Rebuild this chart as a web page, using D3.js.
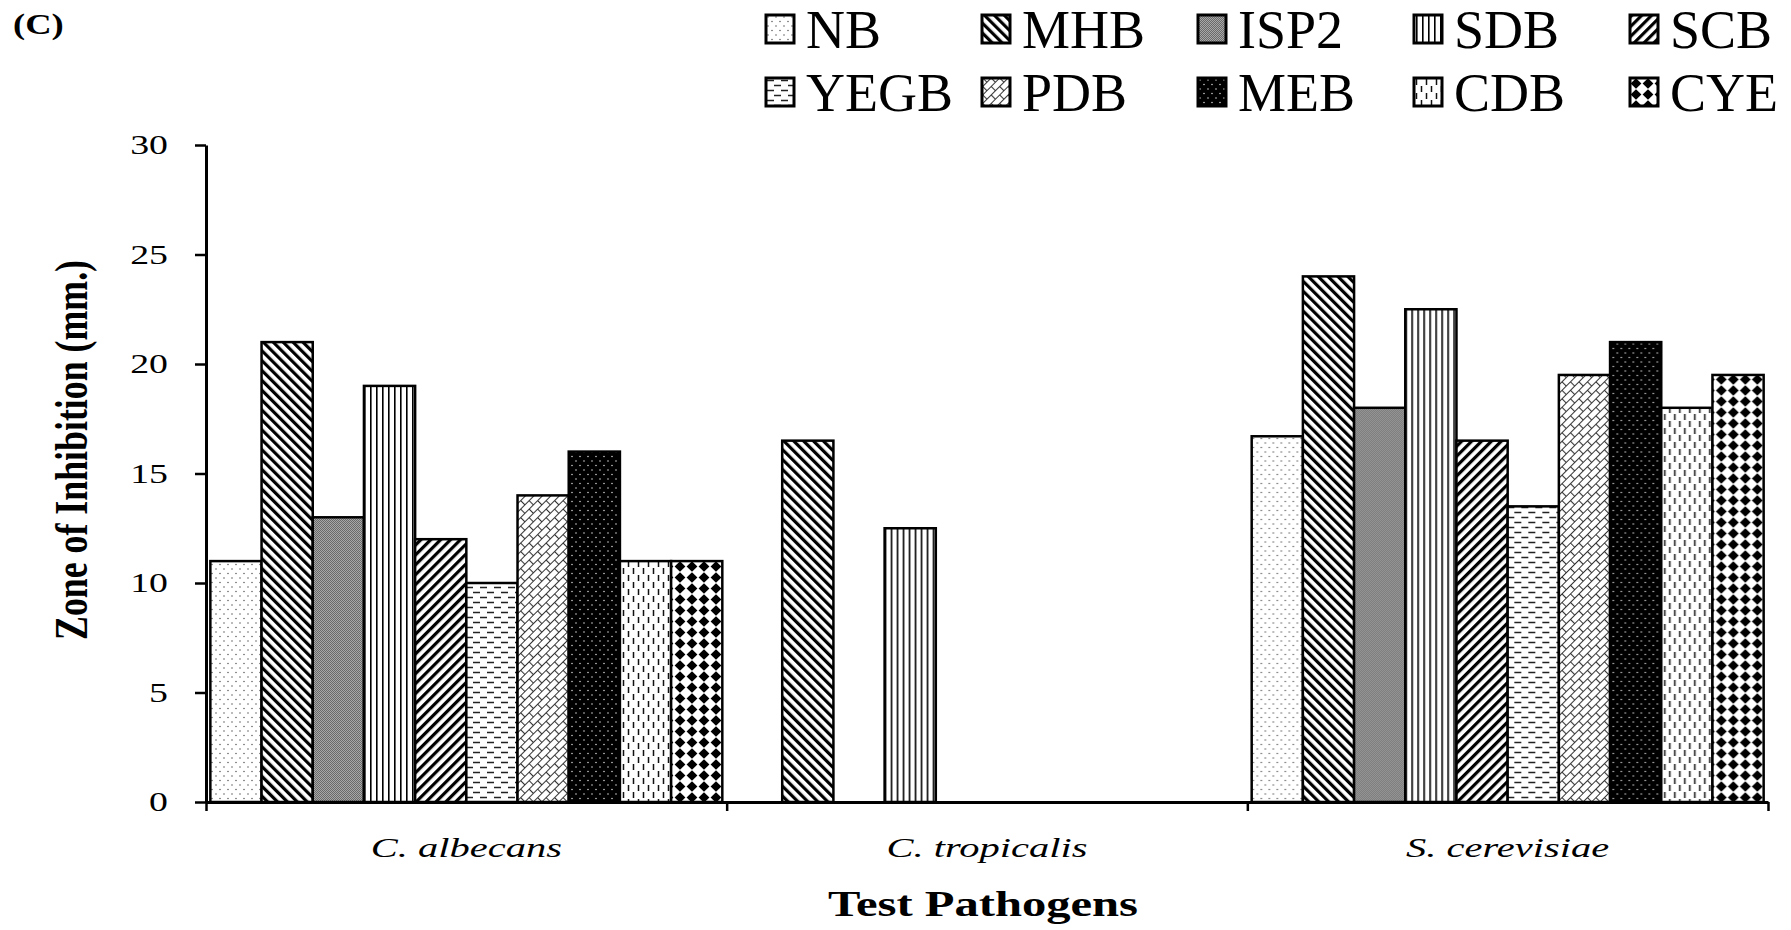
<!DOCTYPE html>
<html><head><meta charset="utf-8">
<script src="https://cdn.jsdelivr.net/npm/d3@7"></script>
<style>
html,body{margin:0;padding:0;background:#fff;}
text{font-family:"Liberation Serif","Times New Roman",serif;fill:#000;}
</style></head>
<body><svg id="chart" width="1791" height="930"></svg>
<script>
const categories = ["C. albecans", "C. tropicalis", "S. cerevisiae"];
const seriesNames = ["NB","MHB","ISP2","SDB","SCB","YEGB","PDB","MEB","CDB","CYE"];
const albecansValues   = [11, 21, 13, 19, 12, 10, 14, 16, 11, 11];
const tropicalisValues = [0, 16.5, 0, 12.5, 0, 0, 0, 0, 0, 0];
const cerevisiaeValues = [16.7, 24, 18, 22.5, 16.5, 13.5, 19.5, 21, 18, 19.5];
const yTickValues = [0, 5, 10, 15, 20, 25, 30];
const valuesByCategory = [albecansValues, tropicalisValues, cerevisiaeValues];

const svg = d3.select("#chart");
const L = 206, R = 1768, B = 802, T = 145;

// patterns
const defs = svg.append("defs");
function pat(id, w, h, transform){
  const p = defs.append("pattern").attr("id", id).attr("patternUnits","userSpaceOnUse")
    .attr("width", w).attr("height", h);
  if (transform) p.attr("patternTransform", transform);
  return p;
}
let p;
// NB
p = pat("p0", 8, 9); p.append("rect").attr("width",8).attr("height",9).attr("fill","#fff");
p.append("circle").attr("cx",2).attr("cy",2).attr("r",0.75).attr("fill","#555");
p.append("circle").attr("cx",6).attr("cy",6.5).attr("r",0.75).attr("fill","#555");
// MHB
p = pat("p1", 7, 7, "rotate(-45)"); p.append("rect").attr("width",7).attr("height",7).attr("fill","#fff");
p.append("rect").attr("x",0).attr("width",3.2).attr("height",7).attr("fill","#000");
// ISP2
p = pat("p2", 2, 2); p.append("rect").attr("width",2).attr("height",2).attr("fill","#a8a8a8");
p.append("rect").attr("width",1).attr("height",1).attr("fill","#6a6a6a");
p.append("rect").attr("x",1).attr("y",1).attr("width",1).attr("height",1).attr("fill","#6a6a6a");
// SDB
p = pat("p3", 6, 6); p.append("rect").attr("width",6).attr("height",6).attr("fill","#fff");
p.append("rect").attr("x",2).attr("width",1.6).attr("height",6).attr("fill","#000");
// SCB
p = pat("p4", 7, 7, "rotate(45)"); p.append("rect").attr("width",7).attr("height",7).attr("fill","#fff");
p.append("rect").attr("x",0).attr("width",3.2).attr("height",7).attr("fill","#000");
// YEGB
p = pat("p5", 14, 10); p.append("rect").attr("width",14).attr("height",10).attr("fill","#fff");
p.append("path").attr("d","M1,2.5H8M8,7.5H15M-6,7.5H1").attr("stroke","#222").attr("stroke-width",1.3);
// PDB
p = pat("p6", 12, 12, "rotate(-45)"); p.append("rect").attr("width",12).attr("height",12).attr("fill","#fff");
p.append("path").attr("d","M0,0.5H12M0,6.5H12M0.5,0.5V6.5M6.5,6.5V12.5").attr("stroke","#333").attr("stroke-width",1.1).attr("fill","none");
// MEB
p = pat("p7", 8, 9); p.append("rect").attr("width",8).attr("height",9).attr("fill","#000");
p.append("circle").attr("cx",2).attr("cy",2).attr("r",0.8).attr("fill","#ccc");
p.append("circle").attr("cx",6).attr("cy",6.5).attr("r",0.8).attr("fill","#ccc");
// CDB
p = pat("p8", 10, 14); p.append("rect").attr("width",10).attr("height",14).attr("fill","#fff");
p.append("path").attr("d","M2.5,1V7M7.5,8V14").attr("stroke","#111").attr("stroke-width",1.5);
// CYE
p = pat("p9", 12, 11); p.append("rect").attr("width",12).attr("height",11).attr("fill","#fff");
p.append("polygon").attr("points","6,0.3 11.4,5.5 6,10.7 0.6,5.5").attr("fill","#000");

// scales
const x0 = d3.scaleBand().domain(categories).range([L, R]).paddingInner(0).paddingOuter(0);
const x1 = d3.scaleBand().domain(seriesNames).range([0, x0.bandwidth()]).paddingInner(0).paddingOuter(0.085);
const y = d3.scaleLinear().domain([0, 30]).range([B, T]);
const xEdge = d3.scaleLinear().domain([0, categories.length]).range([L, R]);

// bars
const groups = svg.append("g").selectAll("g").data(categories).join("g")
  .attr("transform", d => `translate(${x0(d)},0)`);
groups.selectAll("rect").data((c, ci) => seriesNames.map((s, si) => ({s, si, v: valuesByCategory[ci][si]})))
  .join("rect")
  .filter(d => d.v > 0)
  .attr("x", d => x1(d.s)).attr("width", x1.bandwidth())
  .attr("y", d => y(d.v)).attr("height", d => y(0) - y(d.v))
  .attr("fill", d => `url(#p${d.si})`).attr("stroke", "#000").attr("stroke-width", 2.5);

function stretch(sel, sx){
  sel.each(function(){
    const t = d3.select(this);
    const xx = +t.attr("x") || 0, yy = +t.attr("y") || 0;
    t.attr("x", 0).attr("y", 0).attr("transform", `translate(${xx},${yy}) scale(${sx},1)`);
  });
}

// y axis
const yAxis = svg.append("g").attr("transform", `translate(${L},0)`)
  .call(d3.axisLeft(y).tickValues(yTickValues).tickSize(11).tickSizeOuter(0).tickPadding(27));
yAxis.select(".domain").attr("stroke-width", 3);
yAxis.selectAll(".tick line").attr("stroke-width", 2.5);
yAxis.selectAll(".tick text").attr("font-size", 28).attr("font-family", "Liberation Serif").attr("fill","#111");
stretch(yAxis.selectAll(".tick text"), 1.35);

// x axis (boundary ticks)
const xAxis = svg.append("g").attr("transform", `translate(0,${B})`)
  .call(d3.axisBottom(xEdge).tickValues(d3.range(categories.length + 1)).tickFormat("").tickSize(9).tickSizeOuter(0));
xAxis.select(".domain").attr("stroke-width", 3);
xAxis.selectAll(".tick line").attr("stroke-width", 2.5);
const xLab = svg.append("g").attr("transform", `translate(0,${B})`)
  .call(d3.axisBottom(x0).tickSize(0).tickPadding(36));
xLab.select(".domain").remove();
xLab.selectAll(".tick text").attr("font-size", 27).attr("font-style", "italic")
  .attr("font-family", "Liberation Serif").attr("dy", "0.71em").attr("fill","#111");
stretch(xLab.selectAll(".tick text"), 1.5);

// axis titles
svg.append("text").attr("text-anchor", "middle").attr("font-weight", "bold").attr("font-size", 36)
  .attr("transform", `translate(${(L + R) / 2 - 4},916) scale(1.35,1)`).text("Test Pathogens");
svg.append("text").attr("text-anchor", "middle").attr("font-weight", "bold").attr("font-size", 35)
  .attr("transform", "translate(87,450) scale(1.35,1) rotate(-90)").attr("textLength", 380).attr("lengthAdjust", "spacingAndGlyphs")
  .text("Zone of Inhibition (mm.)");

// panel label
svg.append("text").attr("font-weight", "bold").attr("font-size", 30)
  .attr("transform", "translate(13,34) scale(1.22,1)").text("(C)");

// legend
const legend = svg.append("g").selectAll("g").data(seriesNames).join("g")
  .attr("transform", (d, i) => `translate(${766 + (i % 5) * 216},${i < 5 ? 15 : 78})`);
legend.append("rect").attr("width", 28).attr("height", 28)
  .attr("fill", (d, i) => `url(#p${i})`).attr("stroke", "#000").attr("stroke-width", 3);
legend.append("text").attr("x", 40).attr("y", 33).attr("font-size", 54).text(d => d);
</script></body></html>
